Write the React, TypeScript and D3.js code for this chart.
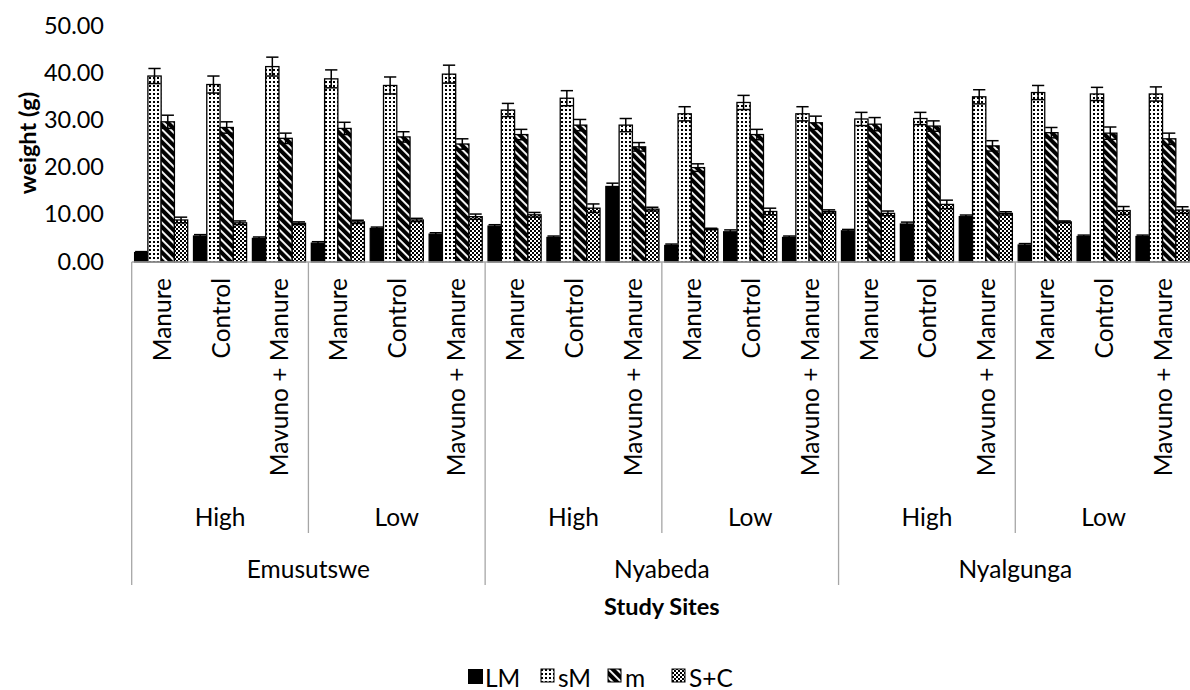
import React from "react";
import * as d3 from "d3";

const series = ["LM", "sM", "m", "S+C"];
const sites = ["Emusutswe", "Nyabeda", "Nyalgunga"];
const levels = ["High", "Low"];
const treatments = ["Manure", "Control", "Mavuno + Manure"];
const yTicks = [0, 10, 20, 30, 40, 50];

const lmValues = [2.0, 5.5, 5.0, 4.0, 7.1, 5.9, 7.6, 5.2, 16.0, 3.5, 6.4, 5.2, 6.6, 8.05, 9.6, 3.6, 5.4, 5.4];
const lmErr = [0.2, 0.3, 0.3, 0.3, 0.3, 0.3, 0.3, 0.3, 0.7, 0.3, 0.4, 0.3, 0.3, 0.4, 0.35, 0.3, 0.3, 0.3];
const smValues = [39.4, 37.6, 41.4, 38.8, 37.4, 39.8, 32.2, 34.7, 29.0, 31.4, 33.8, 31.4, 30.3, 30.4, 35.0, 35.9, 35.6, 35.6];
const smErr = [1.6, 1.8, 2.0, 1.9, 1.8, 1.9, 1.4, 1.6, 1.4, 1.5, 1.5, 1.5, 1.4, 1.3, 1.5, 1.5, 1.4, 1.5];
const mValues = [29.7, 28.5, 26.2, 28.3, 26.5, 25.0, 27.0, 29.0, 24.4, 20.0, 27.0, 29.5, 29.2, 28.8, 24.6, 27.4, 27.3, 26.1];
const mErr = [1.4, 1.2, 1.1, 1.3, 1.1, 1.1, 1.1, 1.2, 0.9, 0.8, 1.1, 1.4, 1.4, 1.1, 1.1, 1.1, 1.3, 1.2];
const scValues = [8.9, 8.3, 8.2, 8.5, 8.9, 9.6, 10.0, 11.4, 11.2, 7.0, 10.7, 10.7, 10.3, 12.2, 10.3, 8.5, 10.9, 11.0];
const scErr = [0.6, 0.4, 0.3, 0.35, 0.35, 0.56, 0.5, 0.9, 0.4, 0.15, 0.7, 0.35, 0.5, 0.9, 0.35, 0.2, 0.85, 0.7];

const seriesValues = [lmValues, smValues, mValues, scValues];
const seriesErr = [lmErr, smErr, mErr, scErr];
const fills = ["#000", "url(#patSM)", "url(#patM)", "url(#patSC)"];

const FONT = "Lato, 'Liberation Sans', sans-serif";

export default function App() {
  const W = 1190, H = 690;
  const left = 131.7, right = 1192, y0 = 262, y50 = 26;
  const cats = d3.range(sites.length * levels.length * treatments.length);
  const x = d3.scaleBand<number>().domain(cats).range([left, right]).padding(0);
  const xs = d3.scaleBand<string>().domain(series).range([0, x.bandwidth()]).paddingInner(0).paddingOuter(0.22);
  const y = d3.scaleLinear().domain([0, 50]).range([y0, y50]);
  const subW = x.step() * treatments.length;
  const siteW = subW * levels.length;
  const bw = xs.bandwidth();
  const axisColor = "#A6A6A6";
  const fs = 24.5;

  return (
    <svg width={W} height={H} style={{ position: "absolute", left: 0, top: 0, background: "#fff" }} fontFamily={FONT}>
      <defs>
        <pattern id="patSM" width={4} height={4} patternUnits="userSpaceOnUse">
          <rect width={4} height={4} fill="#fff" />
          <rect x={1} y={1} width={2} height={2} fill="#000" />
        </pattern>
        <pattern id="patM" width={6} height={6} patternUnits="userSpaceOnUse" patternTransform="rotate(45)">
          <rect width={6} height={6} fill="#000" />
          <rect x={0} y={0} width={6} height={1.9} fill="#fff" />
        </pattern>
        <pattern id="patSC" width={4} height={4} patternUnits="userSpaceOnUse">
          <rect width={4} height={4} fill="#fff" />
          <rect x={0} y={0} width={2} height={2} fill="#000" />
          <rect x={2} y={2} width={2} height={2} fill="#000" />
        </pattern>
      </defs>

      {/* y tick labels */}
      {yTicks.map((t) => (
        <text key={t} x={104} y={y(t) - 1.5} textAnchor="end" dominantBaseline="central" fontSize={23.5} fill="#000">
          {t.toFixed(2)}
        </text>
      ))}
      <text transform={`translate(27,143) rotate(-90)`} textAnchor="middle" dominantBaseline="central" fontSize={23.5} fontWeight="bold">
        weight (g)
      </text>

      {/* bars */}
      {series.map((s, si) => (
        <g key={s}>
          {cats.map((c) => {
            const v = seriesValues[si][c];
            const bx = (x(c) as number) + (xs(s) as number);
            return (
              <rect key={c} x={bx} y={y(v)} width={bw} height={y(0) - y(v)} fill={fills[si]} stroke="#000" strokeWidth={1.3} />
            );
          })}
        </g>
      ))}
      {/* error bars */}
      {series.map((s, si) => (
        <g key={"e" + s} stroke="#000" strokeWidth={1.5}>
          {cats.map((c) => {
            const v = seriesValues[si][c];
            const e = seriesErr[si][c];
            const cx = (x(c) as number) + (xs(s) as number) + bw / 2;
            const hw = bw / 2 - 0.5;
            return (
              <g key={c}>
                <line x1={cx} x2={cx} y1={y(v - e)} y2={y(v + e)} />
                <line x1={cx - hw} x2={cx + hw} y1={y(v + e)} y2={y(v + e)} />
                <line x1={cx - hw} x2={cx + hw} y1={y(v - e)} y2={y(v - e)} />
              </g>
            );
          })}
        </g>
      ))}

      {/* x axis */}
      <line x1={left} x2={right} y1={y0} y2={y0} stroke={axisColor} strokeWidth={1.3} />
      {d3.range(sites.length * levels.length + 1).map((i) => {
        const xx = left + i * subW;
        const isSite = i % levels.length === 0;
        return <line key={i} x1={xx} x2={xx} y1={y0} y2={isSite ? 585 : 533} stroke={axisColor} strokeWidth={1.3} />;
      })}
      {cats.map((c) => (
        <text key={c} transform={`translate(${(x(c) as number) + x.bandwidth() / 2},278) rotate(-90)`} textAnchor="end" dominantBaseline="central" fontSize={fs}>
          {treatments[c % treatments.length]}
        </text>
      ))}
      {d3.range(sites.length * levels.length).map((i) => (
        <text key={i} x={left + (i + 0.5) * subW} y={516} textAnchor="middle" dominantBaseline="central" fontSize={fs}>
          {levels[i % levels.length]}
        </text>
      ))}
      {sites.map((s, i) => (
        <text key={s} x={left + (i + 0.5) * siteW} y={568} textAnchor="middle" dominantBaseline="central" fontSize={fs}>
          {s}
        </text>
      ))}
      <text x={(left + right) / 2} y={606} textAnchor="middle" dominantBaseline="central" fontSize={23.5} fontWeight="bold">
        Study Sites
      </text>

      {/* legend */}
      {series.map((s, i) => {
        const lx = [468, 541, 608, 672][i];
        return (
          <g key={s}>
            <rect x={lx} y={669} width={i === 0 ? 15 : 13} height={i === 0 ? 15 : 13} fill={fills[i]} stroke="#000" strokeWidth={i === 0 ? 0 : 1} />
            <text x={lx + 17} y={677} dominantBaseline="central" fontSize={fs}>
              {s}
            </text>
          </g>
        );
      })}
    </svg>
  );
}
